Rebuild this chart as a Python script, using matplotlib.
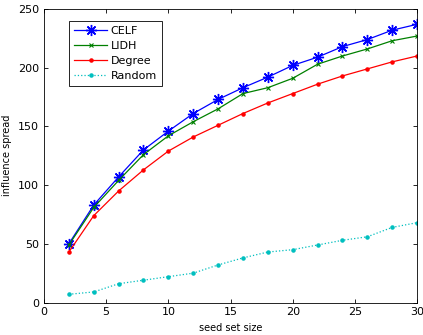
import matplotlib
matplotlib.use("Agg")
import matplotlib.pyplot as plt

seed_sizes = [2, 4, 6, 8, 10, 12, 14, 16, 18, 20, 22, 24, 26, 28, 30]
celf = [50, 83, 107, 130, 146, 161, 173, 183, 192, 202, 209, 218, 224, 232, 237]
lidh = [49, 81, 104, 126, 142, 154, 165, 178, 183, 191, 203, 210, 216, 223, 227]
degree = [43, 74, 95, 113, 129, 141, 151, 161, 170, 178, 186, 193, 199, 205, 210]
random_sel = [7, 9, 16, 19, 22, 25, 32, 38, 43, 45, 49, 53, 56, 64, 68]

plt.rcParams['font.family'] = ['DejaVu Sans']
fig = plt.figure(figsize=(4.23, 3.35), dpi=100)
ax = fig.add_axes([0.104, 0.097, 0.882, 0.876])

ax.plot(seed_sizes, celf, color=(0, 0, 1), marker=(8, 2, 0), markersize=8, mew=1.0, lw=0.9, label='CELF')
ax.plot(seed_sizes, lidh, color=(0, 0.5, 0), marker='x', markersize=3.5, mew=0.8, lw=0.9, label='LIDH')
ax.plot(seed_sizes, degree, color=(1, 0, 0), marker='.', markersize=4.5, lw=0.9, label='Degree')
ax.plot(seed_sizes, random_sel, color=(0, 0.75, 0.75), marker='.', markersize=4.5, lw=0.9,
        linestyle=':', label='Random')

ax.set_xlim(0, 30)
ax.set_ylim(0, 250)
ax.set_xticks(range(0, 31, 5))
ax.set_yticks(range(0, 251, 50))
ax.tick_params(direction='in', top=True, right=True, labelsize=8, length=3, width=0.6)
for s in ax.spines.values():
    s.set_linewidth(0.6)
ax.set_xlabel('seed set size', fontsize=7)
ax.set_ylabel('influence spread', fontsize=7)

leg = ax.legend(loc='upper left', bbox_to_anchor=(0.067, 0.959), borderaxespad=0, fontsize=8,
                fancybox=False, edgecolor='black', framealpha=1, borderpad=0.45,
                labelspacing=0.45, handlelength=3.0, handletextpad=0.3)
leg.get_frame().set_linewidth(0.6)

fig.savefig('out.png', dpi=100)
